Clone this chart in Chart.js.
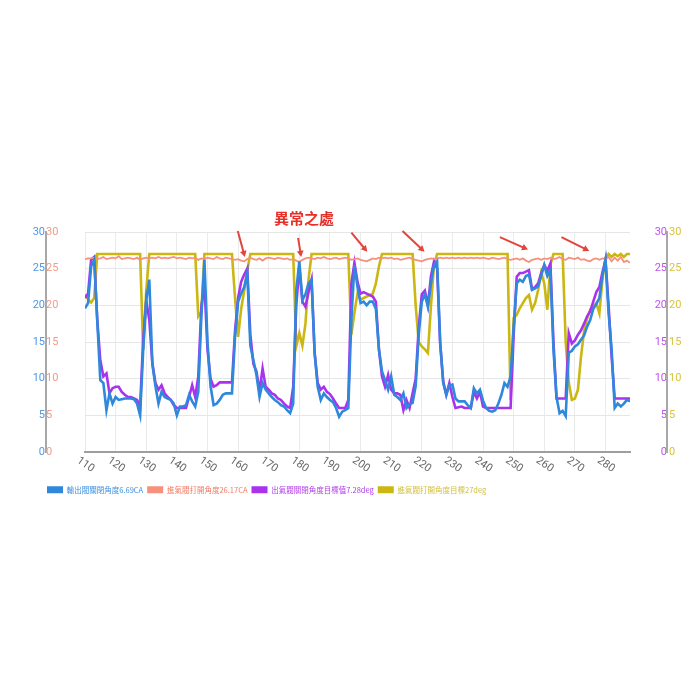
<!DOCTYPE html>
<html lang="zh-Hant">
<head>
    <meta charset="UTF-8">
    <title>閥角度</title>
    <script src="https://cdn.jsdelivr.net/npm/chart.js"></script>
    <style>
        body { margin: 0; background: #fff; }
        #wrap { position: relative; width: 700px; height: 700px; }
    </style>
</head>
<body>
<div id="wrap"><canvas id="valveChart"></canvas></div>
<script>
// sample positions (x axis)
var xValues = [
    110,111,112,113,114,115,116,117,118,119,
    120,121,122,123,124,125,126,127,128,129,
    130,131,132,133,134,135,136,137,138,139,
    140,141,142,143,144,145,146,147,148,149,
    150,151,152,153,154,155,156,157,158,159,
    160,161,162,163,164,165,166,167,168,169,
    170,171,172,173,174,175,176,177,178,179,
    180,181,182,183,184,185,186,187,188,189,
    190,191,192,193,194,195,196,197,198,199,
    200,201,202,203,204,205,206,207,208,209,
    210,211,212,213,214,215,216,217,218,219,
    220,221,222,223,224,225,226,227,228,229,
    230,231,232,233,234,235,236,237,238,239,
    240,241,242,243,244,245,246,247,248,249,
    250,251,252,253,254,255,256,257,258,259,
    260,261,262,263,264,265,266,267,268,269,
    270,271,272,273,274,275,276,277,278,279,
    280,281,282,283,284,285,286,287,288
];

// 輸出閥關閉角度 (blue)
var exhaustClose = [
    19.6,20.3,25.3,26.2,18,9.8,9.4,5.7,8.0,6.6,
    7.5,7.1,7.2,7.3,7.3,7.3,7.2,6.6,5.0,13.9,
    20.7,23.5,12,9,6.6,8.2,7.5,7.3,7.1,6.6,
    5.0,6.2,6.2,6.4,7.8,6.9,6.2,8.2,18.5,26.2,
    15,9,6.4,6.6,7.1,7.8,8.0,8.0,8.0,15.7,
    20.5,21.6,22.5,24.4,14.5,12.5,10.5,7.5,9.4,8.5,
    8.0,7.5,7.1,6.8,6.4,6.2,5.7,5.3,6.6,22,
    26.0,20.7,21.5,23,23.5,13.5,8.9,7.1,8.0,7.5,
    7.1,6.8,6.0,4.8,5.5,5.7,6.0,18,25.5,22.5,
    20.3,20.5,20,20.5,20.5,19.5,14,11,9.8,8.5,
    10.3,7.8,7.5,7.1,8.0,6.0,6.5,6.7,9,16,
    20.5,21.5,19.8,23,25.5,26,15,9.4,7.8,9.1,
    9.2,7.3,6.9,6.9,6.9,6.4,6.0,8.7,8.0,8.5,
    7.0,6.0,5.6,5.5,5.7,6.6,7.8,9.4,8.9,10.3,
    17,23,23.5,23.2,24,24.2,22.1,22.3,22.6,24,
    25.5,24,24.8,14,7.5,5.3,5.6,4.9,13.5,13.8,
    14.4,14.7,15.3,15.9,17.1,18,19.5,20.2,21,24,
    26.2,19,14,6.0,6.6,6.2,6.6,7.1,6.9
];

// 進氣閥打開角度 (salmon)
var intakeOpen = [
    26.3,26.4,26.4,26.5,26.3,26.4,26.6,26.3,26.4,26.5,
    26.4,26.7,26.3,26.4,26.5,26.4,26.3,26.5,26.2,26.4,
    26.5,26.4,26.5,26.4,26.6,26.4,26.5,26.4,26.5,26.6,
    26.4,26.5,26.4,26.3,26.5,26.4,26.5,26.2,26.4,26.3,
    26.5,26.4,26.3,26.6,26.4,26.3,26.5,26.4,26.3,26.2,
    26.3,26.1,26.0,26.3,26.5,26.3,26.2,26.4,26.1,26.4,
    26.5,26.4,26.3,26.5,26.4,26.3,26.4,26.2,26.3,26.1,
    25.9,26.2,26.4,26.5,26.4,26.3,26.5,26.4,26.6,26.4,
    26.3,26.4,26.5,26.3,26.4,26.5,26.4,26.2,26.3,26.4,
    26.2,26.1,26.0,26.2,26.4,26.3,26.5,26.4,26.5,26.4,
    26.5,26.3,26.4,26.2,26.3,26.4,26.5,26.3,26.2,26.1,
    26.0,26.2,26.3,26.4,26.3,26.4,26.5,26.4,26.5,26.4,
    26.5,26.4,26.5,26.4,26.5,26.4,26.5,26.4,26.5,26.4,
    26.5,26.4,26.3,26.5,26.4,26.3,26.4,26.5,26.3,26.2,
    26.3,26.4,26.2,26.4,26.1,25.9,26.2,26.3,26.4,26.2,
    26.4,26.3,26.5,26.3,26.4,26.6,26.3,26.2,26.5,26.4,
    26.3,26.5,26.2,26.3,26.1,26.0,26.3,26.4,26.2,26.4,
    26.3,26.6,26.0,26.5,26.1,26.6,25.9,26.1,25.8
];

// 出氣閥關閉角度 目標值 (purple)
var exhaustTarget = [
    21.0,21.6,26.2,26.6,18,12.5,10.3,10.7,8.0,8.7,
    8.9,8.9,8.2,7.8,7.5,7.5,7.3,7.1,6.2,15.3,
    20.7,18,12.1,9.4,8.5,9.1,8.0,7.5,7.1,6.4,
    6.0,6.0,6.0,6.0,7.5,9.1,7.5,10.3,19.8,23.0,
    14,10,8.9,9.1,9.5,9.5,9.5,9.5,9.5,16.5,
    21,23.2,24.2,25,16,12,11,8.3,11.4,8.9,
    8.5,8.0,7.8,7.3,7.1,6.6,6.2,6.0,8.9,20,
    25.3,20.5,19.8,21.8,23.5,13.5,9.4,8.5,8.9,8.2,
    7.9,7.3,6.6,6.0,6.0,6.0,7.1,23,25.8,23.2,
    21.6,21.8,21.6,21.4,21.2,20.5,14,10.3,8.9,10.5,
    8.5,8.0,8.0,7.8,5.7,7.1,6.0,8.0,10,17,
    21.5,22,20,24,26,25,14.8,9.6,7.8,9.4,
    7.5,6.0,6.1,6.2,6.0,6.0,6.0,8.2,7.3,8.2,
    6.2,6.0,6.0,6.0,6.0,6.0,6.0,6.0,6.0,6.0,
    16,23.9,24.4,24.4,24.6,24.8,22.2,22.5,23,24.4,
    25.5,24.7,25.7,15,7.3,7.3,7.3,7.3,16.2,14.8,
    15.2,16,16.6,17.5,18.5,19.2,20.5,21.8,22.5,24.5,
    26.2,20,13,7.3,7.3,7.3,7.3,7.3,7.3
];

// 進氣閥打開角度 目標 (yellow)
var intakeTarget = [
    21.5,20.8,20.4,21.0,27,27,27,27,27,27,
    27,27,27,27,27,27,27,27,27,13.9,
    22,27,27,27,27,27,27,27,27,27,
    27,27,27,27,27,27,27,18.5,19.1,27,
    27,27,27,27,27,27,27,27,27,21,
    15.7,19.5,22,24.8,27,27,27,27,27,27,
    27,27,27,27,27,27,27,27,27,14.4,
    16.2,14.5,17.5,23.5,27,27,27,27,27,27,
    27,27,27,27,27,27,27,16,19,21.6,
    20.8,21.0,21.2,21.4,21.6,23,25.3,27,27,27,
    27,27,27,27,27,27,27,27,20,15,
    14.4,14,13.5,20,25.5,27,27,27,27,27,
    27,27,27,27,27,27,27,27,27,27,
    27,27,27,27,27,27,27,27,27,7.1,
    18.3,18.7,19.6,20.3,21,21.4,19.4,20.3,22.1,24.5,
    23,19.4,25.5,27,27,27,27,15,9.5,7.1,
    7.3,8.5,13,16.5,18.2,19.4,19.8,20.3,18.9,23.5,
    26.5,27,26.6,27,26.7,27,26.6,27,27
];

var seriesLabels = ['輸出閥關閉角度6.69CA', '進氣閥打開角度26.17CA', '出氣閥關閉角度目標值7.28deg', '進氣閥打開角度目標27deg'];
var lineColors = ['#2f88dc', '#f7907c', '#a832ee', '#cbb712'];
var textColors = ['#3b8fe0', '#f07a66', '#b03ce8', '#d2c040'];
var tickColors = ['#4f98e2', '#f39a89', '#bf52ee', '#d8c43e'];
var xTickLabels = [110, 120, 130, 140, 150, 160, 170, 180, 190, 200, 210, 220, 230, 240, 250, 260, 270, 280];

// annotation: arrows pointing at the dips, [x0, y0, x1, y1] in axis units
var arrows = [
    [159.9, 30.15, 162.2, 26.6],
    [179.6, 29.2, 180.6, 26.6],
    [197.0, 29.9, 202.2, 27.3],
    [213.7, 30.15, 220.9, 27.3],
    [245.5, 29.3, 254.7, 27.6],
    [265.6, 29.3, 274.7, 27.4]
];
var noteText = '異常之處';

function drawArrow(ctx, x0, y0, x1, y1) {
    var a = Math.atan2(y1 - y0, x1 - x0);
    ctx.beginPath();
    ctx.moveTo(x0, y0);
    ctx.lineTo(x1 - 3 * Math.cos(a), y1 - 3 * Math.sin(a));
    ctx.stroke();
    ctx.beginPath();
    ctx.moveTo(x1, y1);
    ctx.lineTo(x1 - 7 * Math.cos(a - 0.5), y1 - 7 * Math.sin(a - 0.5));
    ctx.lineTo(x1 - 7 * Math.cos(a + 0.5), y1 - 7 * Math.sin(a + 0.5));
    ctx.closePath();
    ctx.fill();
}

var extras = {
    id: 'extras',
    afterLayout: function(chart) {
        // legend starts a bit further in than the left axis
        if (chart.legend) chart.legend.left = 43;
    },
    afterDraw: function(chart) {
        var ctx = chart.ctx;
        var xs = chart.scales.x;
        var ys = chart.scales.y3;
        var area = chart.chartArea;

        // rotated x tick labels (clockwise)
        ctx.save();
        ctx.fillStyle = '#666';
        ctx.font = '11px Roboto, sans-serif';
        ctx.textAlign = 'left';
        ctx.textBaseline = 'top';
        xTickLabels.forEach(function(t) {
            var px = xs.getPixelForValue(t);
            ctx.save();
            ctx.translate(px - 4, area.bottom + 3);
            ctx.rotate(35 * Math.PI / 180);
            ctx.fillText(String(t), 0, 0);
            ctx.restore();
        });
        ctx.restore();

        // arrows
        ctx.save();
        ctx.strokeStyle = '#e2453c';
        ctx.fillStyle = '#e2453c';
        ctx.lineWidth = 2;
        arrows.forEach(function(a) {
            drawArrow(ctx, xs.getPixelForValue(a[0]), ys.getPixelForValue(a[1]),
                xs.getPixelForValue(a[2]), ys.getPixelForValue(a[3]));
        });
        ctx.restore();

        // note text
        ctx.save();
        ctx.fillStyle = '#e8302a';
        ctx.font = 'bold 15px "Noto Sans CJK TC", sans-serif';
        ctx.textAlign = 'center';
        ctx.textBaseline = 'middle';
        ctx.fillText(noteText, xs.getPixelForValue(181.5), area.top - 14);
        ctx.restore();
    }
};

function fixWidth(w) { return function(s) { s.width = w; }; }
var tickFont = { size: 11, family: 'Roboto' };

var ctx = document.getElementById('valveChart').getContext('2d');
var valveChart = new Chart(ctx, {
    type: 'line',
    data: {
        labels: xValues,
        datasets: [
            { label: seriesLabels[0], data: exhaustClose, yAxisID: 'y', borderColor: lineColors[0], backgroundColor: lineColors[0], borderWidth: 2.6 },
            { label: seriesLabels[1], data: intakeOpen, yAxisID: 'y1', borderColor: lineColors[1], backgroundColor: lineColors[1], borderWidth: 1.8 },
            { label: seriesLabels[2], data: exhaustTarget, yAxisID: 'y2', borderColor: lineColors[2], backgroundColor: lineColors[2], borderWidth: 2.6 },
            { label: seriesLabels[3], data: intakeTarget, yAxisID: 'y3', borderColor: lineColors[3], backgroundColor: lineColors[3], borderWidth: 2.6 }
        ]
    },
    options: {
        responsive: true,
        maintainAspectRatio: false,
        animation: false,
        elements: { point: { radius: 0 }, line: { tension: 0, fill: false } },
        layout: { padding: { top: 232, left: 30, right: 12, bottom: 196.5 } },
        plugins: {
            tooltip: { enabled: false },
            legend: {
                position: 'bottom',
                align: 'start',
                labels: {
                    boxWidth: 16,
                    boxHeight: 7,
                    padding: 4,
                    font: { size: 7.5, family: '"Noto Sans CJK TC", sans-serif' },
                    generateLabels: function(chart) {
                        return chart.data.datasets.map(function(ds, i) {
                            return {
                                text: ds.label,
                                fillStyle: lineColors[i],
                                strokeStyle: lineColors[i],
                                lineWidth: 0,
                                fontColor: textColors[i],
                                datasetIndex: i
                            };
                        });
                    }
                }
            }
        },
        scales: {
            x: {
                type: 'linear',
                min: 110,
                max: 288,
                ticks: { stepSize: 10, includeBounds: false, display: false },
                grid: { color: '#ebebeb', drawTicks: false },
                border: { color: '#9e9e9e', width: 2 },
                afterFit: function(s) { s.height = 30; }
            },
            y: {
                position: 'left', weight: 1, min: 0, max: 30,
                ticks: { stepSize: 5, color: tickColors[0], padding: 1, font: tickFont },
                grid: { display: false, drawTicks: false },
                border: { display: true, color: '#a8a8a8', width: 2 },
                afterFit: fixWidth(16)
            },
            y1: {
                position: 'left', weight: 0, min: 0, max: 30,
                ticks: { stepSize: 5, color: tickColors[1], crossAlign: 'far', font: tickFont },
                grid: { color: '#e6e6e6', drawTicks: false },
                border: { display: false },
                afterFit: fixWidth(39)
            },
            y2: {
                position: 'right', weight: 0, min: 0, max: 30,
                ticks: { stepSize: 5, color: tickColors[2], crossAlign: 'far', font: tickFont },
                grid: { display: false, drawTicks: false },
                border: { display: false },
                afterFit: fixWidth(37)
            },
            y3: {
                position: 'right', weight: 1, min: 0, max: 30,
                ticks: { stepSize: 5, color: tickColors[3], padding: 2, font: tickFont },
                grid: { display: false, drawTicks: false },
                border: { display: true, color: '#a8a8a8', width: 2 },
                afterFit: fixWidth(21)
            }
        }
    },
    plugins: [extras]
});
</script>
</body>
</html>
